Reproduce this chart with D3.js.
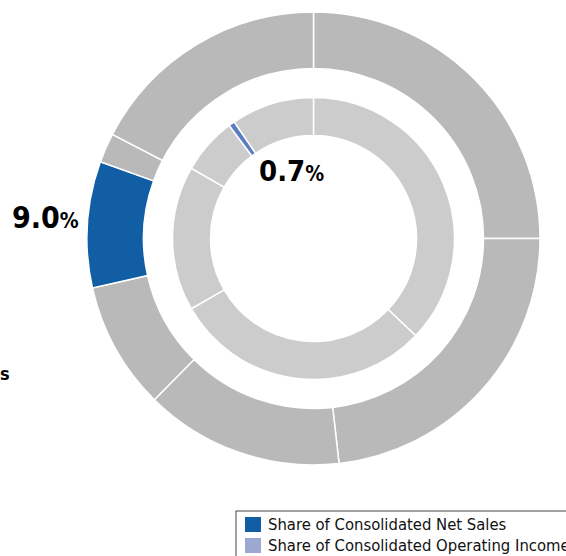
<!DOCTYPE html>
<html>
<head>
<meta charset="utf-8">
<script src="https://cdn.jsdelivr.net/npm/d3@7"></script>
<style>
  html, body { margin: 0; padding: 0; background: #fff; overflow: hidden; }
  svg { display: block; }
  .num { font-family: "Liberation Sans Narrow", "DejaVu Sans Condensed", sans-serif; font-weight: bold; fill: #000; }
  .leg { font-family: "Liberation Sans Narrow", "DejaVu Sans Condensed", sans-serif; font-size: 16.5px; fill: #111; }
</style>
</head>
<body>
<svg id="chart" width="566" height="556"></svg>
<script>
// ── data ──────────────────────────────────────────────
// outer ring: share of consolidated net sales, clockwise from 12 o'clock
const salesSegments = ['s1', 's2', 's3', 's4', 'highlight', 's6', 's7'];
const salesValues   = [25.0, 23.2, 14.2, 9.1, 9.0, 2.1, 17.4];

// inner ring: share of consolidated operating income
const incomeSegments = ['o1', 'o2', 'o3', 'o4', 'highlight', 'o6'];
const incomeValues   = [37.1, 29.6, 16.6, 6.5, 0.7, 9.5];

const legendLabels = ['Share of Consolidated Net Sales', 'Share of Consolidated Operating Income'];
const legendColors = ['#115ea5', '#9da8d1'];

// ── layout ────────────────────────────────────────────
const svg = d3.select('#chart');
const cx = 313.5, cy = 238.5;

const pie = d3.pie().sort(null).value(d => d.v);

function ring(names, values, r0, r1, hiColor, baseColor) {
  const data = names.map((n, i) => ({ n, v: values[i] }));
  const arc = d3.arc().innerRadius(r0).outerRadius(r1);
  svg.append('g')
    .attr('transform', `translate(${cx},${cy})`)
    .selectAll('path')
    .data(pie(data))
    .join('path')
    .attr('d', arc)
    .attr('fill', d => d.data.n === 'highlight' ? hiColor : baseColor)
    .attr('stroke', '#fff')
    .attr('stroke-width', 1.5);
}

ring(salesSegments, salesValues, 170, 226.5, '#115ea5', '#b9b9b9');
ring(incomeSegments, incomeValues, 103, 141, '#5b7cc0', '#cccccc');

// ── value labels ──────────────────────────────────────
function valueLabel(x, y, value, big, small) {
  const t = svg.append('text').attr('class', 'num').attr('x', x).attr('y', y);
  t.append('tspan').style('font-size', big + 'px').text(value.toFixed(1));
  t.append('tspan').style('font-size', small + 'px').text('%');
}
valueLabel(12, 228, salesValues[salesSegments.indexOf('highlight')], 30, 21);
valueLabel(259, 181, incomeValues[incomeSegments.indexOf('highlight')], 29, 21);

// caption fragment at the left edge
svg.append('text').attr('class', 'num')
  .attr('x', 0).attr('y', 380)
  .style('font-size', '18px')
  .text('s');

// ── legend ────────────────────────────────────────────
const leg = svg.append('g').attr('transform', 'translate(236,511)');
leg.append('rect')
  .attr('x', 0).attr('y', 0).attr('width', 340).attr('height', 50)
  .attr('fill', '#fff').attr('stroke', '#444').attr('stroke-width', 1);

const rows = leg.selectAll('g.row')
  .data(legendLabels)
  .join('g')
  .attr('class', 'row')
  .attr('transform', (d, i) => `translate(9,${6 + i * 21})`);

rows.append('rect')
  .attr('width', 16).attr('height', 15)
  .attr('fill', (d, i) => legendColors[i]);

rows.append('text')
  .attr('class', 'leg')
  .attr('x', 23).attr('y', 13)
  .text(d => d);
</script>
</body>
</html>
